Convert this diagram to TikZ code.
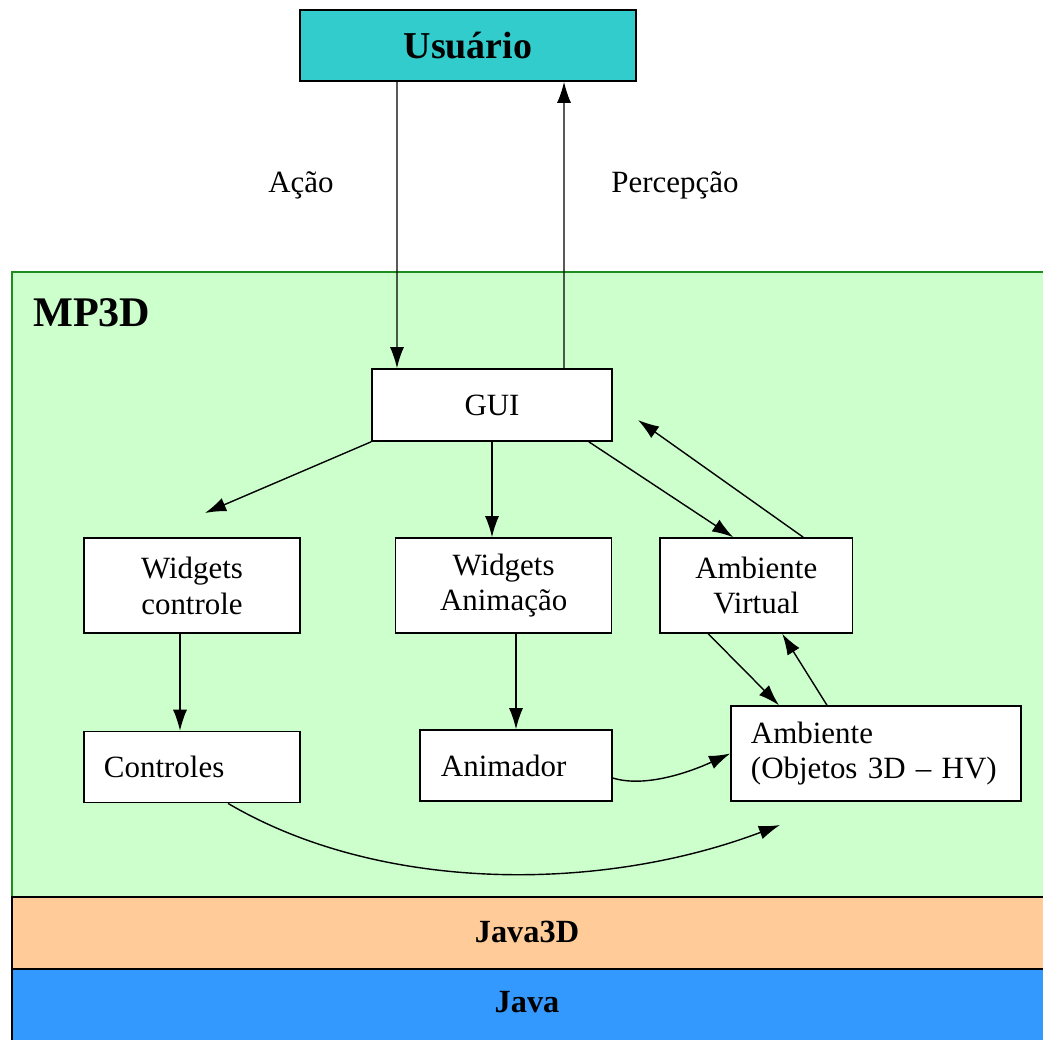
\documentclass[tikz,border=0pt]{standalone}
\usepackage{fontspec}
\setmainfont{Liberation Serif}
\usetikzlibrary{shapes,arrows,arrows.meta,positioning,calc}
\definecolor{usercyan}{HTML}{33CCCC}
\definecolor{mpgreen}{HTML}{CCFFCC}
\definecolor{mpborder}{HTML}{1E8C1E}
\definecolor{peach}{HTML}{FFCC99}
\definecolor{javablue}{HTML}{3399FF}

\begin{document}
\begin{tikzpicture}[x=0.025cm, y=-0.025cm, >={Latex[length=15pt,width=10pt]},
    box/.style={draw, rectangle, fill=white, line width=1.1pt, inner sep=0pt, align=center, font=\fontsize{22}{25.5}\selectfont},
    link/.style={->, line width=1pt}]
    \useasboundingbox (0,0) rectangle (1043,1039);

    % layers
    \draw [fill=mpgreen, draw=mpborder, line width=1.2pt] (12,272) rectangle (1060,897);
    \draw [fill=peach, line width=1.2pt] (12,897) rectangle (1060,969);
    \draw [fill=javablue, line width=1.2pt] (12,969) rectangle (1060,1060);
    \node [anchor=base west, inner sep=0pt, font=\bfseries\fontsize{30}{34}\selectfont] (mp3d) at (33,326) {MP3D};
    \node [font=\bfseries\fontsize{23}{26}\selectfont] (java3d) at (527,932) {Java3D};
    \node [font=\bfseries\fontsize{23}{26}\selectfont] (java) at (527,1002) {Java};

    % boxes
    \node [box, fill=usercyan, minimum width=8.4cm, minimum height=1.775cm, font=\bfseries\fontsize{27}{30}\selectfont] (usuario) at (468,45.5) {Usuário};
    \node [box, minimum width=6cm, minimum height=1.8cm] (gui) at (492,405) {GUI};
    \node [box, minimum width=5.4cm, minimum height=2.375cm] (wctrl) at (192,585.5) {Widgets\\controle};
    \node [box, minimum width=5.4cm, minimum height=2.375cm, right=2.35cm of wctrl] (wanim) {Widgets\\Animação};
    \node [box, minimum width=4.8cm, minimum height=2.375cm, right=1.175cm of wanim] (ambvirt) {Ambiente\\Virtual};
    \node [box, minimum width=5.4cm, minimum height=1.775cm, text width=4.4cm, align=left, inner xsep=0.5cm, below=2.425cm of wctrl] (ctrl) {Controles};
    \node [box, minimum width=4.8cm, minimum height=1.775cm, text width=3.75cm, align=left, inner xsep=0.525cm] (anim) at (516,765.5) {Animador};
    \node [box, minimum width=7.2cm, minimum height=2.375cm, text width=6.25cm, align=left, inner xsep=0.5cm] (amb) at (876,753.5) {Ambiente\\(Objetos 3D – HV)};

    % free arrow ends
    \coordinate (wctrltip) at (205,513);
    \coordinate (guitip) at (638,420);
    \coordinate (ambtip) at (780,825);

    \draw [link] ([xshift=-1.775cm]usuario.south) -- node [pos=0.36, left=1.45cm, font=\fontsize{22}{25.5}\selectfont] {Ação} ([xshift=-2.375cm]gui.north);
    \draw [link] ([xshift=1.8cm]gui.north) -- node [pos=0.64, right=1.05cm, font=\fontsize{22}{25.5}\selectfont] {Percepção} ([xshift=2.4cm]usuario.south);
    \draw [link] (gui.south west) -- (wctrltip);
    \draw [link] (gui.south) -- (gui.south |- wanim.north);
    \draw [link] ([xshift=-0.6cm]gui.south east) -- ([xshift=-0.575cm]ambvirt.north);
    \draw [link] ([xshift=1.175cm]ambvirt.north) -- (guitip);
    \draw [link] ([xshift=-0.3cm]wctrl.south) -- ([xshift=-0.3cm]wctrl.south |- ctrl.north);
    \draw [link] (wanim.south -| anim.north) -- (anim.north);
    \draw [link] ([xshift=-1.2cm]ambvirt.south) -- ([xshift=-2.425cm]amb.north);
    \draw [link] ([xshift=-1.225cm]amb.north) -- ([xshift=0.65cm]ambvirt.south);
    \draw [link] ([yshift=-0.3125cm]anim.east) .. controls (645,788) and (690,772) .. (amb.west);
    \draw [link] ([xshift=0.9cm]ctrl.south) .. controls (380,893) and (600,893) .. (ambtip);
\end{tikzpicture}
\end{document}
